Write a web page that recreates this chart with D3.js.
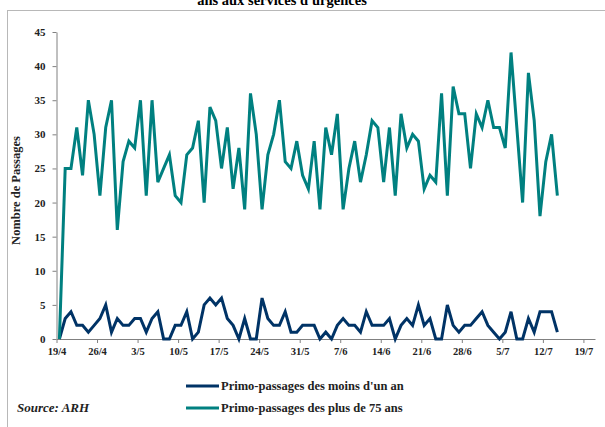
<!DOCTYPE html>
<html>
<head>
<meta charset="utf-8">
<script src="https://cdn.jsdelivr.net/npm/d3@7"></script>
<style>
  html, body { margin: 0; padding: 0; background: #fff; overflow: hidden; }
  svg { display: block; font-family: "Liberation Serif", "Times New Roman", serif; }
</style>
</head>
<body>
<div class="chart-container"></div>
<script>
(function() {
  ////////////////////////////////////////////////////////////
  //// Data //////////////////////////////////////////////////
  ////////////////////////////////////////////////////////////
  const year = 2003;
  const firstDay = [19, 4]; // 19 avril
  const xTickLabels = ["19/4", "26/4", "3/5", "10/5", "17/5", "24/5", "31/5",
    "7/6", "14/6", "21/6", "28/6", "5/7", "12/7", "19/7"];
  const yTickValues = [0, 5, 10, 15, 20, 25, 30, 35, 40, 45];

  const moinsUnAn = [0, 3, 4, 2, 2, 1, 2, 3, 5, 1, 3, 2, 2, 3, 3, 1, 3, 4, 0, 0,
    2, 2, 4, 0, 1, 5, 6, 5, 6, 3, 2, 0, 3, 0, 0, 6, 3, 2, 2, 4,
    1, 1, 2, 2, 2, 0, 1, 0, 2, 3, 2, 2, 1, 4, 2, 2, 2, 3, 0, 2,
    3, 2, 5, 2, 3, 0, 0, 5, 2, 1, 2, 2, 3, 4, 2, 1, 0, 1, 4, 0,
    0, 3, 1, 4, 4, 4, 1];
  const plus75Ans = [0, 25, 25, 31, 24, 35, 30, 21, 31, 35, 16, 26, 29, 28, 35, 21, 35, 23, 25, 27,
    21, 20, 27, 28, 32, 20, 34, 32, 25, 31, 22, 28, 19, 36, 30, 19, 27, 30, 35, 26,
    25, 29, 24, 22, 29, 19, 31, 27, 33, 19, 25, 29, 23, 27, 32, 31, 23, 31, 21, 33,
    28, 30, 29, 22, 24, 23, 36, 21, 37, 33, 33, 25, 33, 31, 35, 31, 31, 28, 42, 31,
    20, 39, 32, 18, 26, 30, 21];

  const seriesNames = ["Primo-passages des moins d'un an", "Primo-passages des plus de 75 ans"];
  const seriesColors = ["#003366", "#008080"];

  const startDate = new Date(year, firstDay[1] - 1, firstDay[0]);
  const parseTick = s => {
    const [d, m] = s.split("/").map(Number);
    return new Date(year, m - 1, d);
  };
  const tickDates = xTickLabels.map(parseTick);
  const endDate = d3.timeDay.offset(tickDates[tickDates.length - 1], 2);

  // points are centered inside their day slot
  const toPoints = values =>
    values.map((v, i) => ({ date: d3.timeHour.offset(d3.timeDay.offset(startDate, i), 12), value: v }));
  const series = [
    { name: seriesNames[0], color: seriesColors[0], points: toPoints(moinsUnAn) },
    { name: seriesNames[1], color: seriesColors[1], points: toPoints(plus75Ans) }
  ];

  ////////////////////////////////////////////////////////////
  //// Chart /////////////////////////////////////////////////
  ////////////////////////////////////////////////////////////
  const chartWidth = 605;
  const chartHeight = 427;
  const plot = { left: 56.5, right: 595, top: 32, bottom: 339 };

  const xScale = d3.scaleTime()
    .domain([startDate, endDate])
    .range([plot.left, plot.right]);

  const yScale = d3.scaleLinear()
    .domain([0, 45])
    .range([plot.bottom, plot.top]);

  const svg = d3.select(".chart-container")
    .append("svg")
    .attr("width", chartWidth)
    .attr("height", chartHeight)
    .attr("viewBox", [0, 0, chartWidth, chartHeight]);

  // chart frame
  svg.append("rect")
    .attr("x", 7.5)
    .attr("y", 10.5)
    .attr("width", chartWidth)
    .attr("height", chartHeight)
    .attr("fill", "none")
    .attr("stroke", "#b8b8b8")
    .attr("stroke-width", 1);

  // title (cut by the top edge, as in the source image)
  svg.append("text")
    .attr("x", 282)
    .attr("y", 5)
    .attr("text-anchor", "middle")
    .attr("font-weight", "bold")
    .attr("font-size", 14.5)
    .attr("fill", "#000")
    .text("ans aux services d'urgences");

  // y axis
  svg.append("g")
    .attr("transform", `translate(${plot.left},0)`)
    .call(d3.axisLeft(yScale).tickValues(yTickValues).tickSize(4).tickPadding(7).tickSizeOuter(0))
    .call(g => g.attr("font-family", null))
    .call(g => g.select(".domain").attr("stroke", "#808080"))
    .call(g => g.selectAll(".tick line").attr("stroke", "#808080"))
    .call(g => g.selectAll(".tick text")
      .attr("font-weight", "bold")
      .attr("font-size", 11)
      .attr("fill", "#222"));

  // x axis
  svg.append("g")
    .attr("transform", `translate(0,${plot.bottom})`)
    .call(d3.axisBottom(xScale).tickValues(tickDates).tickSize(4).tickPadding(5).tickSizeOuter(0)
      .tickFormat((d, i) => xTickLabels[i]))
    .call(g => g.attr("font-family", null))
    .call(g => g.select(".domain").attr("stroke", "#808080"))
    .call(g => g.selectAll(".tick line").attr("stroke", "#808080"))
    .call(g => g.selectAll(".tick text")
      .attr("font-weight", "bold")
      .attr("font-size", 10.5)
      .attr("fill", "#222"));

  // y axis title
  svg.append("text")
    .attr("transform", `translate(20,${(plot.top + plot.bottom) / 2 + 5}) rotate(-90)`)
    .attr("text-anchor", "middle")
    .attr("font-weight", "bold")
    .attr("font-size", 12.5)
    .attr("fill", "#222")
    .text("Nombre de Passages");

  // lines
  const line = d3.line()
    .x(d => xScale(d.date))
    .y(d => yScale(d.value));

  svg.append("g")
    .selectAll("path")
    .data(series)
    .join("path")
    .attr("fill", "none")
    .attr("stroke", d => d.color)
    .attr("stroke-width", 3)
    .attr("stroke-linejoin", "miter")
    .attr("d", d => line(d.points));

  // legend
  const legend = svg.append("g")
    .attr("transform", "translate(186,386)");
  const item = legend.selectAll("g")
    .data(series)
    .join("g")
    .attr("transform", (d, i) => `translate(0,${i * 22})`);
  item.append("line")
    .attr("x1", 0)
    .attr("x2", 33)
    .attr("stroke", d => d.color)
    .attr("stroke-width", 3);
  item.append("text")
    .attr("x", 35)
    .attr("dy", "0.35em")
    .attr("font-weight", "bold")
    .attr("font-size", 12.5)
    .attr("fill", "#222")
    .text(d => d.name);

  // source
  svg.append("text")
    .attr("x", 17)
    .attr("y", 412)
    .attr("font-weight", "bold")
    .attr("font-style", "italic")
    .attr("font-size", 13)
    .attr("fill", "#222")
    .text("Source: ARH");
})();
</script>
</body>
</html>
